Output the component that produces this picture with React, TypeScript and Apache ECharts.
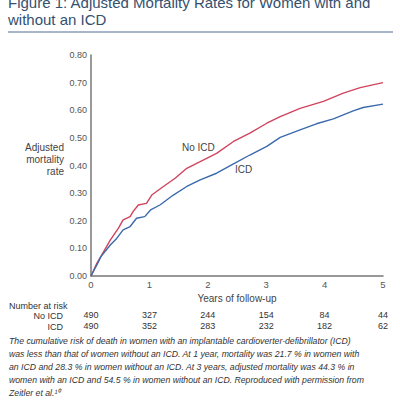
import React, { useEffect, useRef } from "react";
import * as echarts from "echarts";

const titleLines = [
  "Figure 1: Adjusted Mortality Rates for Women with and",
  "without an ICD",
];

const years = [0, 1, 2, 3, 4, 5];
const yTicks = [0, 0.1, 0.2, 0.3, 0.4, 0.5, 0.6, 0.7, 0.8];

const noIcdCurve: [number, number][] = [
  [0, 0], [0.1, 0.046], [0.15, 0.064], [0.33, 0.13], [0.47, 0.173], [0.55, 0.203],
  [0.67, 0.215], [0.72, 0.233], [0.81, 0.257], [0.95, 0.263], [1.04, 0.293],
  [1.24, 0.324], [1.44, 0.354], [1.64, 0.39], [1.87, 0.414], [2.15, 0.444],
  [2.44, 0.487], [2.72, 0.517], [3.01, 0.553], [3.24, 0.577], [3.58, 0.607],
  [3.98, 0.632], [4.32, 0.662], [4.61, 0.682], [5.0, 0.7],
];

const icdCurve: [number, number][] = [
  [0, 0], [0.1, 0.04], [0.17, 0.07], [0.33, 0.112], [0.44, 0.136], [0.55, 0.167],
  [0.67, 0.179], [0.78, 0.209], [0.92, 0.215], [1.02, 0.239], [1.18, 0.257],
  [1.41, 0.293], [1.64, 0.324], [1.87, 0.348], [2.15, 0.372], [2.44, 0.406],
  [2.72, 0.438], [3.01, 0.469], [3.24, 0.502], [3.58, 0.529], [3.86, 0.551],
  [4.15, 0.569], [4.49, 0.598], [4.66, 0.61], [5.0, 0.622],
];

const noIcdAtRisk = [490, 327, 244, 154, 84, 44];
const icdAtRisk = [490, 352, 283, 232, 182, 62];

const captionLines = [
  "The cumulative risk of death in women with an implantable cardioverter-defibrillator (ICD)",
  "was less than that of women without an ICD. At 1 year, mortality was 21.7 % in women with",
  "an ICD and 28.3 % in women without an ICD. At 3 years, adjusted mortality was 44.3 % in",
  "women with an ICD and 54.5 % in women without an ICD. Reproduced with permission from",
  "Zeitler et al.\u00b9\u2070",
];

const FONT = "Liberation Sans, Arial, sans-serif";
const RED = "#d0445e";
const BLUE = "#3b6aac";
const GRAY = "#555";

export default function App() {
  const ref = useRef<HTMLDivElement>(null);
  useEffect(() => {
    if (!ref.current) return;
    const chart = echarts.init(ref.current, undefined, { renderer: "svg" });
    const riskAxis = (arr: number[], offset: number) => ({
      type: "value",
      gridIndex: 0,
      position: "bottom",
      min: 0,
      max: 5,
      interval: 1,
      offset,
      axisLine: { show: false },
      axisTick: { show: false },
      splitLine: { show: false },
      axisLabel: {
        margin: 0,
        fontSize: 9,
        fontFamily: FONT,
        color: "#333",
        formatter: (v: number) => String(arr[Math.round(v)] ?? ""),
      },
    });
    const label = (text: string, x: number, y: number, size: number, align = "left", fill = "#444") => ({
      type: "text",
      x,
      y,
      style: { text, align, verticalAlign: "middle", fontSize: size, fill, fontFamily: FONT },
    });
    chart.setOption({
      animation: false,
      textStyle: { fontFamily: FONT },
      grid: { left: 91, right: 17, top: 55, bottom: 124, containLabel: false },
      xAxis: [
        {
          type: "value",
          min: years[0],
          max: years[years.length - 1],
          interval: 1,
          axisLine: { lineStyle: { color: "#777", width: 1.5 } },
          axisTick: { show: false },
          splitLine: { show: false },
          axisLabel: { margin: 3, fontSize: 9.5, color: GRAY, fontFamily: FONT },
          name: "Years of follow-up",
          nameLocation: "middle",
          nameGap: 17,
          nameTextStyle: { fontSize: 10, color: "#444", fontFamily: FONT },
        },
        riskAxis(noIcdAtRisk, 34),
        riskAxis(icdAtRisk, 45),
      ],
      yAxis: {
        type: "value",
        min: yTicks[0],
        max: yTicks[yTicks.length - 1],
        interval: 0.1,
        axisLine: { show: true, lineStyle: { color: "#777", width: 1.5 } },
        axisTick: { show: false },
        splitLine: { show: false },
        axisLabel: {
          margin: 4,
          fontSize: 9,
          color: GRAY,
          fontFamily: FONT,
          formatter: (v: number) => v.toFixed(2),
        },
      },
      series: [
        {
          name: "No ICD",
          type: "line",
          data: noIcdCurve,
          symbol: "none",
          lineStyle: { color: RED, width: 1.4 },
          z: 3,
        },
        {
          name: "ICD",
          type: "line",
          data: icdCurve,
          symbol: "none",
          lineStyle: { color: BLUE, width: 1.4 },
          z: 3,
        },
      ],
      graphic: [
        {
          type: "text",
          left: 8,
          top: -6,
          style: {
            text: titleLines.join("\n"),
            fontSize: 15,
            lineHeight: 17,
            fill: "#34506f",
            fontFamily: FONT,
          },
        },
        {
          type: "rect",
          shape: { x: 8, y: 31, width: 385, height: 2 },
          style: { fill: "#a9b5c8" },
        },
        label("Adjusted", 64, 147, 10, "right"),
        label("mortality", 64, 159, 10, "right"),
        label("rate", 64, 171, 10, "right"),
        label("No ICD", 182, 147, 10),
        label("ICD", 235, 169, 10),
        label("Number at risk", 9, 305.5, 9, "left", "#333"),
        label("No ICD", 63, 315.5, 9, "right", "#333"),
        label("ICD", 63, 326.5, 9, "right", "#333"),
        {
          type: "text",
          left: 9,
          top: 334,
          style: {
            text: captionLines.join("\n"),
            fontSize: 8.7,
            lineHeight: 13,
            fontStyle: "italic",
            fill: "#333",
            fontFamily: FONT,
          },
        },
      ],
    });
    return () => chart.dispose();
  }, []);
  return (
    <div
      ref={ref}
      style={{ position: "fixed", left: 0, top: 0, width: 400, height: 400, background: "#fff" }}
    />
  );
}
